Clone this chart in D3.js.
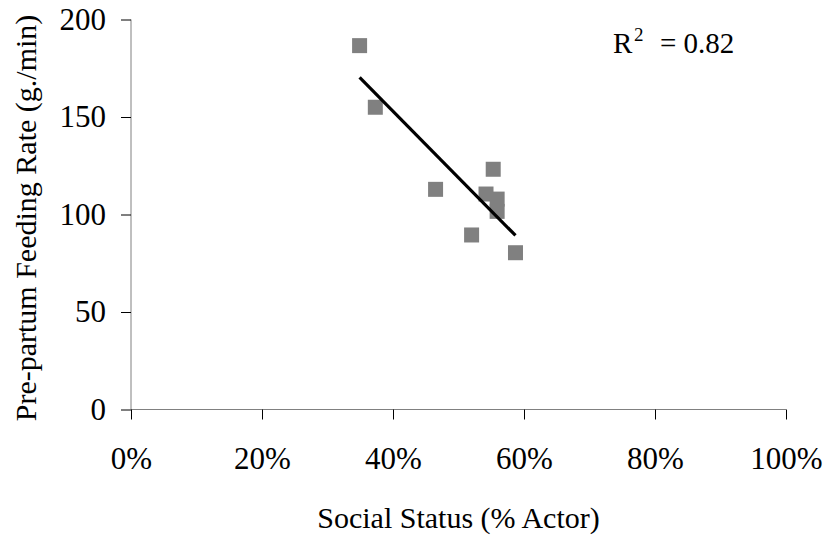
<!DOCTYPE html>
<html>
<head>
<meta charset="utf-8">
<script src="https://cdn.jsdelivr.net/npm/d3@7"></script>
<style>
  body { margin: 0; background: #fff; }
  text { font-family: "Liberation Serif", "Times New Roman", serif; fill: #000; }
</style>
</head>
<body>
<div id="chart"></div>
<script>
// social status (share of interactions as actor) vs pre-partum feeding rate
var socialStatus = [0.349, 0.373, 0.465, 0.520, 0.542, 0.553, 0.559, 0.559, 0.587];
var feedRate = [186.6, 155, 112.9, 89.5, 110.5, 123.2, 107.9, 101.6, 80.4];
var xTicks = [0, 0.2, 0.4, 0.6, 0.8, 1.0];
var yTicks = [0, 50, 100, 150, 200];
var r2Label = "0.82";

var width = 829, height = 540;

var svg = d3.select("#chart")
  .append("svg")
    .attr("width", width)
    .attr("height", height);

var x = d3.scaleLinear()
    .domain([0, 1])
    .range([131, 786]);
var y = d3.scaleLinear()
    .domain([0, 200])
    .range([409.5, 19.5]);

// y axis
var yAxis = svg.append("g")
    .attr("transform", "translate(131,0)")
    .call(d3.axisLeft(y).tickValues(yTicks).tickSize(10).tickPadding(15));
yAxis.select(".domain").attr("stroke", "#808080").attr("d", "M0," + y(200) + "V" + y(0));
yAxis.selectAll(".tick line").attr("stroke", "#000");
yAxis.selectAll("text")
    .style("font-size", "31px")
    .style("font-family", "Liberation Serif");

// x axis
var xAxis = svg.append("g")
    .attr("transform", "translate(0," + y(0) + ")")
    .call(d3.axisBottom(x).tickValues(xTicks).tickSize(10).tickFormat(d3.format(".0%")));
xAxis.select(".domain").attr("stroke", "#808080").attr("d", "M" + x(0) + ",0H" + x(1));
xAxis.selectAll(".tick line").attr("stroke", "#000");
xAxis.selectAll("text")
    .attr("y", 59)
    .attr("dy", 0)
    .style("font-size", "31px")
    .style("font-family", "Liberation Serif");

// trend line (least squares)
var mx = d3.mean(socialStatus), my = d3.mean(feedRate);
var sxy = d3.sum(socialStatus, function(d, i) { return (d - mx) * (feedRate[i] - my); });
var sxx = d3.sum(socialStatus, function(d) { return (d - mx) * (d - mx); });
var slope = sxy / sxx, icpt = my - slope * mx;
var ext = d3.extent(socialStatus);

// points
svg.append("g")
  .selectAll("rect")
  .data(socialStatus)
  .enter()
  .append("rect")
    .attr("x", function(d) { return x(d) - 7.5; })
    .attr("y", function(d, i) { return y(feedRate[i]) - 7.5; })
    .attr("width", 15)
    .attr("height", 15)
    .attr("fill", "#808080");

svg.append("line")
    .attr("x1", x(ext[0]))
    .attr("y1", y(slope * ext[0] + icpt))
    .attr("x2", x(ext[1]))
    .attr("y2", y(slope * ext[1] + icpt))
    .attr("stroke", "#000")
    .attr("stroke-width", 3.2);

// R squared
var r2 = svg.append("text")
    .attr("y", 53)
    .style("font-size", "29px");
r2.append("tspan").attr("x", 613).text("R");
r2.append("tspan").attr("x", 634).attr("dy", -12).style("font-size", "19px").text("2");
r2.append("tspan").attr("x", 660).attr("dy", 12).text("= " + r2Label);

// axis titles
svg.append("text")
    .attr("x", 458.5)
    .attr("y", 528)
    .attr("text-anchor", "middle")
    .style("font-size", "30px")
    .text("Social Status (% Actor)");

svg.append("text")
    .attr("transform", "translate(36,218) rotate(-90)")
    .attr("text-anchor", "middle")
    .style("font-size", "30px")
    .text("Pre-partum Feeding Rate (g./min)");
</script>
</body>
</html>
